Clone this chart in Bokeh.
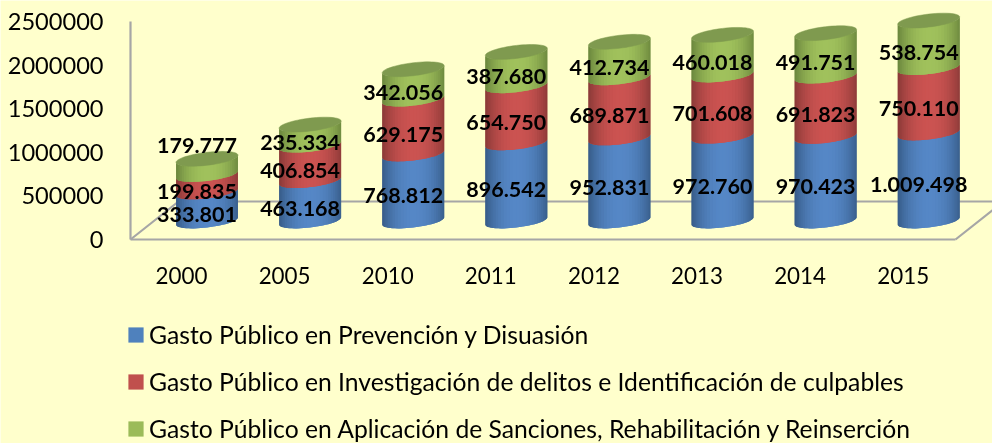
import math
from bokeh.plotting import figure
from bokeh.models import Range1d, LinearAxis, FixedTicker, Legend, LegendItem, ColumnDataSource
from bokeh.core.properties import value
from bokeh.embed import file_html
from bokeh.resources import INLINE

years = ["2000", "2005", "2010", "2011", "2012", "2013", "2014", "2015"]
prevencion = [333801, 463168, 768812, 896542, 952831, 972760, 970423, 1009498]
investigacion = [199835, 406854, 629175, 654750, 689871, 701608, 691823, 750110]
sanciones = [179777, 235334, 342056, 387680, 412734, 460018, 491751, 538754]
series_names = [
    "Gasto Público en Prevención y Disuasión",
    "Gasto Público en Investigación de delitos e Identificación de culpables",
    "Gasto Público en Aplicación de Sanciones, Rehabilitación y Reinserción",
]
y_ticks = [0, 500000, 1000000, 1500000, 2000000, 2500000]

W, H = 992, 443
BG = "#FFFFCC"
AXC = "#A6A6A6"
PX_PER_CAT = 103.1
PX_PER_UNIT = 87.2e-6
X0_PX, Y0_PX = 181.0, 239.0
dx = lambda px: px / PX_PER_CAT
dy = lambda px: px / PX_PER_UNIT

p = figure(width=W, height=H, output_backend="svg", toolbar_location=None,
           x_range=Range1d(-X0_PX / PX_PER_CAT, (W - X0_PX) / PX_PER_CAT),
           y_range=Range1d((Y0_PX - H) / PX_PER_UNIT, Y0_PX / PX_PER_UNIT),
           x_axis_type=None, y_axis_type=None,
           min_border=0, min_border_left=0, min_border_right=0, min_border_top=0, min_border_bottom=0,
           background_fill_color=BG, border_fill_color=BG, outline_line_color=None,
           styles={"position": "fixed", "left": "0", "top": "0"})
p.grid.visible = False

# floor / back wall
fl, fr = dx(130 - X0_PX), dx(955 - X0_PX)
deep_x, deep_y = dx(48), dy(38)
p.line([fl, fl + deep_x, fr + deep_x, fr], [0, deep_y, deep_y, 0], line_color=AXC, line_width=2.2)

# cylinders
CX, CY = dx(25.5), dy(18.5)
A, B, S = 31.0, 6.5, 3.6
N = 30
colors = [((0x38, 0x5D, 0x8A), (0x55, 0x87, 0xC6)),
          ((0x8C, 0x3A, 0x38), (0xCB, 0x53, 0x51)),
          ((0x6C, 0x88, 0x3E), (0xA0, 0xC1, 0x5C))]
leg_cols = ["#4F81BD", "#C0504D", "#9BBB59"]
TOPC = "#7F9A4F"

def front(t):
    return S * t - B * math.sqrt(max(0.0, 1 - t * t))

def shade(pair, t):
    k = min(1.0, abs(t - 0.02)) ** 2.2
    return "#%02x%02x%02x" % tuple(round(c + (e - c) * k) for e, c in zip(*pair))

xs, ys, cs = [], [], []
lab_x, lab_y, lab_t, lab_off = [], [], [], []
ts = [-math.cos(math.pi * j / N) for j in range(N + 1)]
top_xs, top_ys = [], []
items = []
bases = [0] * len(years)
for k, ser in enumerate((prevencion, investigacion, sanciones)):
    bottoms = [CY + b for b in bases]
    tops = [CY + b + v for b, v in zip(bases, ser)]
    r = p.vbar(x=[i + CX for i in range(len(years))], width=dx(50), bottom=bottoms, top=tops,
               fill_color=leg_cols[k], line_color=None)
    items.append(LegendItem(label=series_names[k], renderers=[r]))
    for i, v in enumerate(ser):
        base = bases[i]
        for j in range(N):
            # every strip runs on under its right neighbour, so no seams show
            tt = ts[j:j + 3]
            xx = [i + CX + dx(A * t) for t in tt]
            lo = [CY + base + dy(front(t)) for t in tt]
            hi = [CY + base + v + dy(front(t)) for t in tt]
            xs.append(xx + xx[::-1])
            ys.append(lo + hi[::-1])
            cs.append(shade(colors[k], (ts[j] + ts[j + 1]) / 2))
        lab_x.append(i)
        lab_y.append(CY + base + v / 2)
        lab_t.append(f"{v:,}".replace(",", "."))
        lab_off.append(-21 if (i == 0 and k == 2) else 8)
        bases[i] += v

th = [2 * math.pi * j / 60 for j in range(60)]
for i, b in enumerate(bases):
    top_xs.append([i + CX + dx(A * math.cos(a)) for a in th])
    top_ys.append([CY + b + dy(S * math.cos(a) + B * math.sin(a)) for a in th])

p.patches(xs, ys, fill_color=cs, line_color=None)
p.patches(top_xs, top_ys, fill_color=TOPC, line_color=TOPC, line_width=0.5)

src = ColumnDataSource(dict(x=lab_x, y=lab_y, text=lab_t, off=lab_off))
p.text("x", "y", text="text", source=src, x_offset=15.5, y_offset="off",
       text_font=value("Lato"), text_font_style="bold", text_font_size="21.5px",
       text_align="center", text_baseline="middle", text_color="#000000")

# axes
xa = LinearAxis(fixed_location=0, bounds=(fl, fr))
xa.ticker = FixedTicker(ticks=list(range(len(years))))
xa.major_label_overrides = {i: y for i, y in enumerate(years)}
xa.major_tick_line_color = None
xa.minor_tick_line_color = None
xa.axis_line_color = AXC
xa.axis_line_width = 2.2
xa.major_label_text_font = "Lato"
xa.major_label_text_font_size = "22.4px"
xa.major_label_text_color = "#000000"
xa.major_label_standoff = 21
p.add_layout(xa, "below")

ya = LinearAxis(fixed_location=fl, bounds=(0, 2500000))
ya.ticker = FixedTicker(ticks=y_ticks)
ya.major_label_overrides = {v: str(v) for v in y_ticks}
ya.major_tick_line_color = None
ya.minor_tick_line_color = None
ya.axis_line_color = AXC
ya.axis_line_width = 2.2
ya.major_label_text_font = "Lato"
ya.major_label_text_font_size = "23.6px"
ya.major_label_text_color = "#000000"
ya.major_label_standoff = 21
p.add_layout(ya, "left")

# legend
leg = Legend(items=items, location=(126, 0), orientation="vertical",
             background_fill_alpha=0, border_line_color=None,
             glyph_width=19, glyph_height=19, label_standoff=4, spacing=18,
             padding=0, margin=0,
             label_text_font="Lato", label_text_font_size="24.7px", label_text_color="#000000")
p.add_layout(leg, "center")

open("out.html", "w").write(file_html(p, INLINE))
